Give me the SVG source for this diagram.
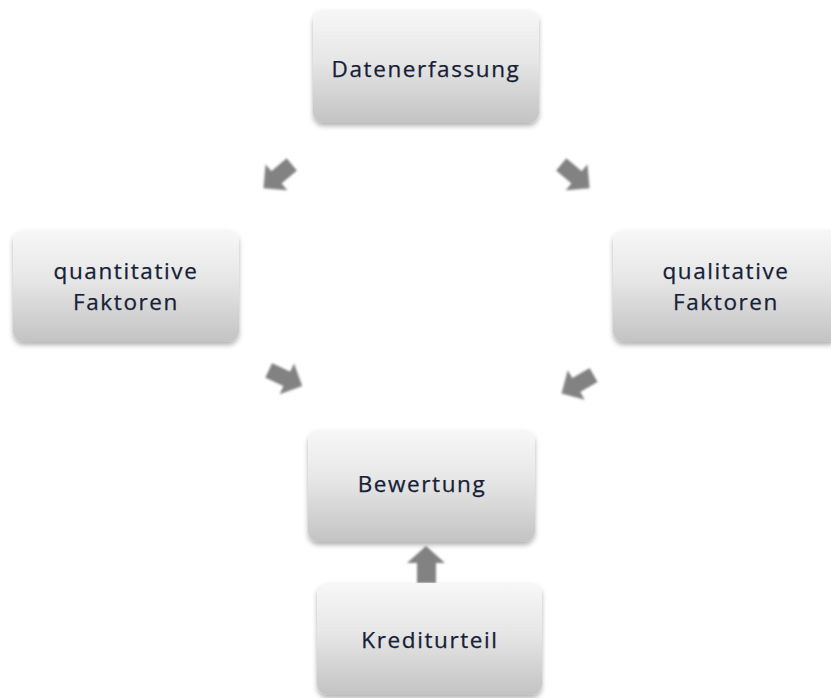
<svg xmlns="http://www.w3.org/2000/svg" width="831" height="698" viewBox="0 0 831 698">
  <defs>
    <linearGradient id="boxFill" x1="0" y1="0" x2="0" y2="1">
      <stop offset="0" stop-color="#f7f7f7"/>
      <stop offset="0.45" stop-color="#e6e6e6"/>
      <stop offset="1" stop-color="#c3c3c3"/>
    </linearGradient>
    <linearGradient id="arrowFill" x1="0" y1="0" x2="0" y2="1">
      <stop offset="0" stop-color="#6f6f6f"/>
      <stop offset="1" stop-color="#9a9a9a"/>
    </linearGradient>
    <filter id="boxShadow" x="-10%" y="-10%" width="120%" height="125%">
      <feDropShadow dx="0" dy="3" stdDeviation="2.5" flood-color="#000" flood-opacity="0.3"/>
    </filter>
    <filter id="soft" x="-30%" y="-30%" width="160%" height="160%">
      <feGaussianBlur stdDeviation="1"/>
    </filter>
    <!-- block arrow pointing along +x, centred on the origin -->
    <path id="blockArrow" d="M-18,-8 L2,-8 L2,-17 L19,0 L2,17 L2,8 L-18,8 Z"/>
  </defs>
  <style>
    .box { fill: url(#boxFill); filter: url(#boxShadow); }
    .label { font-family: "Open Sans", "Liberation Sans", sans-serif; font-size: 22.5px; fill: #152036; stroke: #152036; stroke-width: 0.25px; text-anchor: middle; letter-spacing: 1.6px; }
    .arrow { fill: #828282; filter: url(#soft); }
  </style>

  <rect width="831" height="698" fill="#ffffff"/>

  <g id="connectors">
    <use href="#blockArrow" class="arrow" transform="translate(278,176) rotate(140)"/>
    <use href="#blockArrow" class="arrow" transform="translate(575,176) rotate(40)"/>
    <use href="#blockArrow" class="arrow" transform="translate(285,378) rotate(25)"/>
    <use href="#blockArrow" class="arrow" transform="translate(578,384) rotate(150)"/>
    <path class="arrow" fill="url(#arrowFill)" d="M417,583 L417,563 L407,563 L426,546 L445,563 L436,563 L436,583 Z"/>
  </g>

  <g id="datenerfassung">
    <rect class="box" x="313" y="10" width="226" height="113" rx="11"/>
    <text class="label" x="426" y="77">Datenerfassung</text>
  </g>

  <g id="quantitative">
    <rect class="box" x="13" y="230" width="226" height="112" rx="11"/>
    <text class="label" x="126" y="279">quantitative</text>
    <text class="label" x="126" y="310">Faktoren</text>
  </g>

  <g id="qualitative">
    <rect class="box" x="613" y="230" width="226" height="112" rx="11"/>
    <text class="label" x="726" y="279">qualitative</text>
    <text class="label" x="726" y="310">Faktoren</text>
  </g>

  <g id="bewertung">
    <rect class="box" x="308" y="430" width="227" height="112" rx="11"/>
    <text class="label" x="422" y="492">Bewertung</text>
  </g>

  <g id="krediturteil">
    <rect class="box" x="317" y="583" width="225" height="112" rx="11"/>
    <text class="label" x="430" y="648">Krediturteil</text>
  </g>
</svg>
